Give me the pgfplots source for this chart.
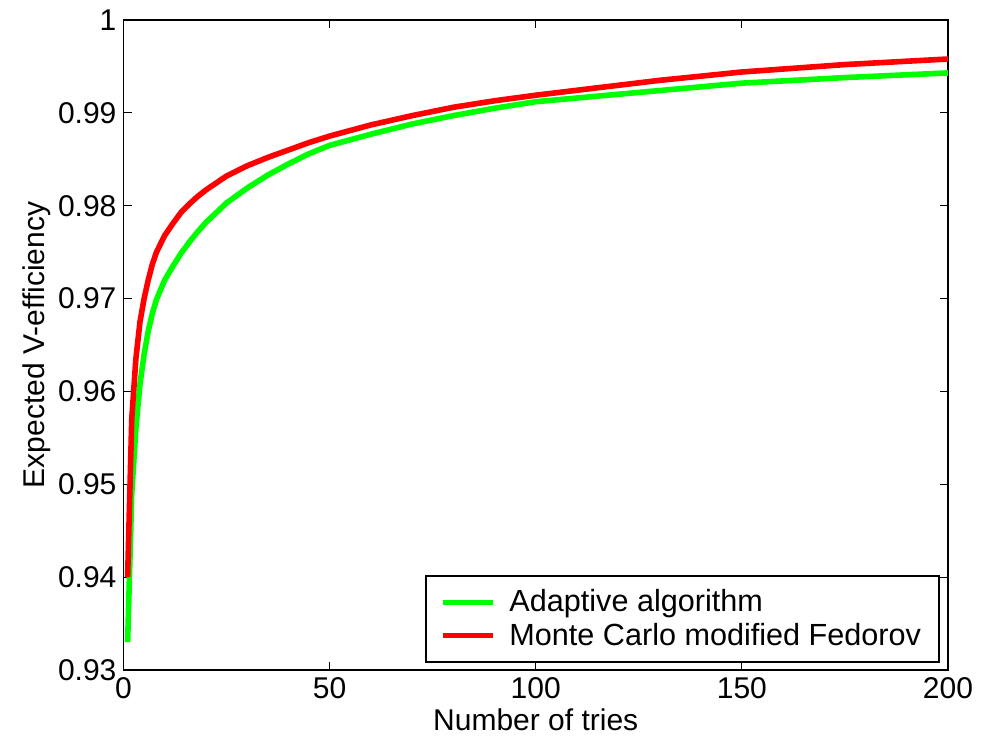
\documentclass[border=0pt]{standalone}
\usepackage{fontspec}
\setmainfont{Liberation Sans}
\usepackage{pgfplots}
\pgfplotsset{compat=1.18}
\definecolor{cGreen}{RGB}{0,255,0}
\definecolor{cRed}{RGB}{255,0,0}

\begin{document}
\begin{tikzpicture}
\path[use as bounding box] (-61.75pt,-34.5pt) rectangle (432.75pt,335pt);
\begin{axis}[
  at={(0,0)}, anchor=south west,
  scale only axis, width=412.25pt, height=325pt,
  xmin=0, xmax=200, ymin=0.93, ymax=1,
  xtick={0,50,100,150,200},
  ytick={0.93,0.94,0.95,0.96,0.97,0.98,0.99,1},
  yticklabel style={/pgf/number format/fixed,/pgf/number format/precision=2},
  /pgf/number format/assume math mode=true,
  font=\fontsize{15}{17}\selectfont,
  tick label style={font=\fontsize{15}{17}\selectfont},
  xlabel={Number of tries}, ylabel={Expected V-efficiency},
  xlabel style={yshift=1.5pt}, ylabel style={yshift=-3pt},
  axis line style={line width=0.7pt}, major tick length=4pt,
  every tick/.style={black,line width=0.6pt},
  legend style={at={(0.990,0.011)},anchor=south east,draw=black,line width=0.7pt,
    font=\fontsize{15.3}{17}\selectfont,inner xsep=7pt,inner ysep=5pt,row sep=0pt,
    legend cell align=left},
  legend image post style={line width=2.8pt},
  legend image code/.code={\draw[#1] (0pt,0pt) -- (25pt,0pt); \path (30pt,0pt);},
]
\addplot[cGreen,line width=2.8pt] coordinates {
(1,0.9330)(2,0.9490)(3,0.9560)(4,0.9608)(5,0.9640)(6,0.9665)(7,0.9684)(8,0.9699)
(10,0.9720)(12,0.9735)(14,0.9749)(16,0.9761)(18,0.9772)(20,0.9782)(25,0.9803)(30,0.9819)(35,0.9833)
(40,0.9845)(45,0.9856)(50,0.9865)(60,0.9877)(70,0.9888)(80,0.9897)(90,0.9905)(100,0.9912)
(115,0.9918)(130,0.9924)(150,0.9932)(175,0.9938)(200,0.9943)};
\addlegendentry{Adaptive algorithm}
\addplot[cRed,line width=2.8pt] coordinates {
(1,0.9400)(2,0.9570)(3,0.9635)(4,0.9675)(5,0.9700)(6,0.9720)(7,0.9737)(8,0.9750)
(10,0.9768)(12,0.9781)(14,0.9793)(16,0.9802)(18,0.9810)(20,0.9817)(25,0.9832)(30,0.9843)(35,0.9852)
(40,0.9860)(45,0.9868)(50,0.9875)(60,0.9887)(70,0.9897)(80,0.9906)(90,0.9913)(100,0.9919)
(115,0.9927)(130,0.9935)(150,0.9944)(175,0.9952)(200,0.9958)};
\addlegendentry{Monte Carlo modified Fedorov}
\end{axis}
\end{tikzpicture}
\end{document}
